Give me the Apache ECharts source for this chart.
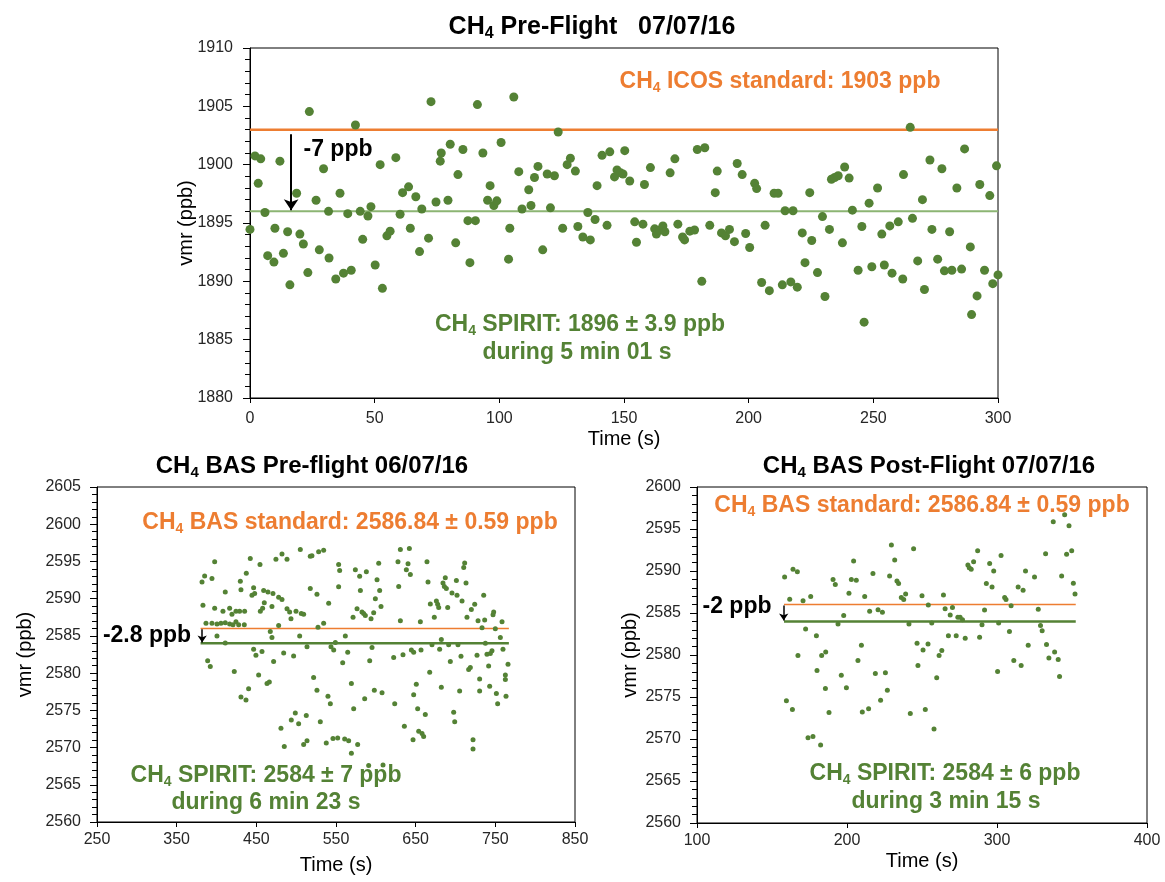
<!DOCTYPE html>
<html><head><meta charset="utf-8">
<script src="https://cdn.jsdelivr.net/npm/echarts@6/dist/echarts.min.js"></script>
<style>html,body{margin:0;padding:0;background:#fff}#c{width:1165px;height:882px}</style>
</head><body><div id="c"></div>
<script>
// ---------- DATA ----------
const topXTicks = [0, 300, 50];          // min, max, interval (s)
const topYTicks = [1880, 1910, 5];       // min, max, interval (ppb)
const blXTicks = [250, 850, 100];
const blYTicks = [2560, 2605, 5];
const brXTicks = [100, 400, 100];
const brYTicks = [2560, 2600, 5];

const topIcosLine = [[0, 1903], [300, 1903]];
const topSpiritLine = [[0, 1896], [300, 1896]];
const topArrow = [[16.5, 1902.6], [16.5, 1896.1]];

const blStdLine = [[380, 2586], [767, 2586]];
const blSpiritLine = [[380, 2584], [767, 2584]];
const blArrow = [[382, 2585.9], [382, 2584.1]];

const brStdLine = [[158, 2586], [352.5, 2586]];
const brSpiritLine = [[158, 2584], [352.5, 2584]];
const brArrow = [[157.8, 2585.9], [157.8, 2584.1]];

const topPoints = [
[0,1894.45],[2,1900.75],[3.3,1898.4],[4.3,1900.5],[6,1895.9],[7.1,1892.2],[9.6,1891.65],[10,1894.55],[12,1900.3],[13.4,1892.4],
[15.1,1894.25],[16,1889.7],[18.7,1897.55],[20,1894.05],[21.4,1893.2],[23.2,1890.75],[23.8,1904.55],[26.5,1896.95],[27.8,1892.7],[29.5,1899.65],
[31.5,1896.0],[31.7,1892.0],[34.4,1890.2],[36.1,1897.55],[37.5,1890.7],[39.2,1895.8],[40.6,1890.95],[42.3,1903.4],[44.2,1896.0],[45.2,1893.6],
[47.3,1895.6],[48.5,1896.4],[50.2,1891.4],[52.2,1900.0],[53.1,1889.4],[54.9,1893.9],[56.2,1894.3],[58.5,1900.6],[60.2,1895.75],[61.2,1897.6],
[63.6,1898.1],[64.3,1894.55],[66.5,1897.25],[68,1892.55],[68.9,1896.2],[71.6,1893.7],[72.6,1905.4],[74.6,1896.8],[76.3,1900.3],[76.7,1901.0],
[79.4,1896.95],[80.3,1901.75],[82.5,1893.3],[83.4,1899.15],[85.4,1901.3],[87.4,1895.2],[88.2,1891.6],[90.4,1895.2],[91.2,1905.15],[93.4,1901.0],
[95.3,1896.95],[96.3,1898.2],[97.8,1896.5],[99,1896.9],[100.7,1901.9],
[103.7,1891.9],[104.2,1894.55],[105.8,1905.8],[107.8,1899.4],[109.1,1896.2],[111.8,1897.85],[112.7,1896.5],[114.1,1898.9],[115.5,1899.85],[117.4,1892.7],
[119.2,1899.2],[120.5,1896.3],[122.1,1899.05],[123.6,1902.8],[125.4,1894.55],[127.2,1900.0],[128.5,1900.55],[130.5,1899.45],[131.5,1894.7],[133.5,1893.8],
[135.5,1895.9],[136.5,1893.55],[138.4,1895.3],[139.2,1898.2],[141.2,1900.8],[143.2,1894.8],[144.3,1901.1],[146.2,1898.95],[147.2,1899.55],[148.6,1899.3],
[149.6,1899.2],[150.3,1901.2],[152.3,1898.6],[154.3,1895.1],[155,1893.35],[157.6,1894.9],[158.2,1898.3],[160.6,1899.75],[162.3,1894.5],[163,1894.05],
[164.3,1894.4],[165.6,1894.75],[166.4,1894.25],[168.5,1899.3],[170.4,1900.5],[171.6,1894.9],[173.5,1893.8],[174.3,1893.55],[176.4,1894.3],[178.3,1894.4],
[179.4,1901.3],[181.2,1890.0],[182.4,1901.45],[184.4,1894.8],[186.6,1897.6],[187.4,1899.45],[189.1,1894.15],[190.7,1893.9],[192.3,1894.45],[194.3,1893.4],
[195.4,1900.1],[197.4,1899.15],
[198.8,1894.1],[200.4,1892.9],[202.4,1898.4],[203.2,1897.95],[205.2,1889.9],[206.6,1894.8],[208.3,1889.2],[210.2,1897.55],[211.8,1897.55],[213.5,1889.7],
[214.6,1896.05],[216.9,1889.95],[217.8,1896.05],[219.5,1889.5],[221.5,1894.15],[222.6,1891.6],[224.5,1897.6],[225.3,1893.5],[227.6,1890.75],[229.6,1895.55],
[230.6,1888.7],[232.4,1894.45],[233.2,1898.75],[234.5,1898.9],[235.9,1899.05],[237.6,1893.3],[238.5,1899.8],[240.3,1898.85],[241.6,1896.1],[243.9,1890.95],
[245.4,1894.7],[246.3,1886.5],[248.3,1896.7],[249.4,1891.25],[251.7,1898.0],[253.4,1894.05],[254.4,1891.4],[256.6,1894.75],[257.5,1890.7],[260,1895.1],
[261.8,1890.2],[262.1,1899.15],[264.8,1903.2],[265.7,1895.4],[267.8,1891.75],[269.7,1897.0],[270.5,1889.3],[272.7,1900.4],[273.5,1894.45],[275.8,1891.9],
[277.5,1899.65],[278.5,1890.9],[280.6,1894.25],[281.5,1890.95],[283.5,1898.0],[285.4,1891.05],[286.6,1901.35],[288.9,1892.95],[289.4,1887.15],[291.6,1888.75],
[292.7,1898.3],[294.6,1890.95],[296.7,1897.35],[297.9,1889.8],[299.4,1899.9],[300,1890.55]
];

const blPoints = [
[381.8,2592.25],[385.1,2593.05],[383,2589.1],[386.8,2586.7],[388.9,2581.65],[392.2,2580.9],[394.3,2592.7],[397.7,2594.95],[397.7,2588.7],[394.3,2586.7],
[400.6,2586.6],[400.6,2585.0],[411,2584.05],[405.6,2586.7],[408.1,2588.3],[411,2590.9],[411,2586.75],[416.5,2588.7],[416.5,2586.6],[419.4,2587.9],
[420.7,2586.5],[422.3,2580.2],[424.4,2586.9],[424.4,2588.3],[427.8,2586.5],[429,2588.3],[429.9,2592.35],[430.7,2591.2],[430.7,2576.8],[434.9,2586.5],
[435.3,2588.3],[437,2576.4],[437.4,2593.4],[440.3,2577.9],[442.4,2595.4],[444.5,2590.45],[446.6,2583.2],[447.9,2590.7],[446.6,2591.45],[449.5,2582.4],
[452.9,2579.75],[454.6,2594.6],[455,2588.3],[457.1,2582.9],[457.9,2588.7],[459.2,2591.1],[460,2589.45],[463.4,2578.6],[466.3,2578.8],[464.6,2590.9],
[467.5,2585.6],[469.6,2584.8],[469.6,2588.95],[470.9,2590.7],[471.7,2581.55],[474.6,2595.3],[478,2590.2],[478,2586.4],[480.9,2572.6],[482.2,2596.0],
[482.2,2589.9],[484.3,2582.7],[485.1,2570.15],[488.5,2595.3],[488.5,2588.65],[491.8,2588.2],[493.5,2587.3],[493.9,2573.7],[496.8,2582.3],[498.9,2574.65],
[499.8,2588.3],[503.1,2573.2],[504.4,2585.0],[505.2,2596.6],[506.4,2588.0],[509.4,2587.9],[509.4,2570.4],[513.6,2583.55],[513.6,2570.9],[512.7,2574.3],
[517.7,2591.35],[517.7,2595.7],[519.8,2595.75],[521.9,2579.4],[526.1,2590.6],[526.1,2577.7],[527.4,2586.15],[528.2,2596.3],[530.3,2573.45],[534.5,2596.5],
[534.5,2586.7],[537.8,2570.6],[539.9,2576.9],[540.8,2589.4],[542.9,2575.9],[543.7,2583.55],[546.2,2571.2],[552.1,2571.3],[553.3,2594.6],[554.6,2593.8],
[553.3,2591.6],[547.1,2583.1],[549.2,2584.1],[561.7,2585.0],[560.9,2571.15],[558.4,2581.4],[564.7,2582.8],[565.9,2570.9],[569.3,2578.6],[571.4,2587.5],
[572.2,2575.2],[569.3,2569.25],[574.3,2593.9],[576.4,2588.65],[577.2,2570.4],[579.7,2593.0],[580.6,2591.1],[582.6,2588.2],[584.7,2588.0],[586.8,2587.75],
[586,2576.55],[588.1,2593.6],[591,2567.6],[592.3,2581.65],[594,2587.3],[595.2,2583.45],[597.3,2588.1],[598.1,2577.7],[599.4,2590.0],[601.5,2592.55],
[603.6,2594.75],[604.8,2591.1],[606.5,2588.95],[607.8,2577.35],[609,2567.65],[622.4,2582.1],[623.7,2575.9],[627.8,2594.95],[628.7,2591.65],[630.8,2596.6],
[630.8,2587.05],[634.1,2582.45],[635.8,2572.85],[638.3,2593.9],[640.4,2594.7],[642.1,2596.75],[643.3,2593.25],[644.6,2583.1],[647.5,2582.8],[646.7,2571.05],
[647.5,2577.1],[650.8,2578.5],[652.5,2575.2],[653.8,2572.2],[655.9,2586.9],[656.7,2583.1],[658,2571.9],[660,2571.5],[662.1,2574.45],[664.2,2594.95],
[665.5,2592.25],[667.6,2580.1],[668.4,2589.3],[670.5,2583.8],[673.4,2587.5],[676,2589.7],[677.6,2589.25],[678.9,2588.8],[680.1,2583.2],[682.2,2584.5],
[682.2,2578.1],[684.3,2592.1],[686,2591.65],[687.2,2592.8],[688.5,2591.35],[690.2,2588.8],[691.4,2583.8],[693.5,2581.55],[695.6,2590.75],[697.7,2574.75],
[699,2573.45],[701.1,2592.45],[701.9,2590.45],[703.1,2583.8],[705.2,2577.6],[706.9,2582.25],[708.2,2589.7],[710.3,2594.2],[711.5,2594.8],[713.2,2592.1],
[714.4,2587.5],[716.5,2580.5],[718.6,2580.75],[719.9,2588.55],[722,2571.05],[722,2569.8],[724.1,2589.25],[727,2582.4],[728.3,2587.05],[730.3,2579.2],
[730.3,2577.6],[733.3,2586.1],[735.4,2590.45],[736.6,2587.15],[737.5,2584.0],[739.5,2582.55],[741.6,2580.95],[742.9,2578.25],[743.7,2582.65],[745.8,2583.0],
[747.1,2587.85],[747.9,2588.2],[750,2585.95],[751.3,2577.25],[752.9,2575.9],[756.3,2584.8],[758.4,2586.9],[759.6,2583.2],[762.6,2579.75],[762.6,2579.15],
[763.4,2576.9],[765.9,2581.2]
];

const brPoints = [
[158.4,2589.3],[159.6,2574.55],[161.8,2586.65],[163.6,2573.5],[164,2590.2],[166.9,2589.9],[167.3,2579.95],[170.7,2586.45],[172.4,2583.1],[174,2570.15],
[175.8,2586.95],[177.3,2570.3],[179.6,2582.3],[180,2578.15],[182.4,2569.3],[183.1,2579.95],[185.8,2580.35],[185.6,2576.0],[188,2573.15],[190.7,2589.0],
[192.2,2588.4],[194,2583.7],[196.2,2577.6],[197.8,2584.7],[199.6,2576.1],[201.3,2587.35],[202.9,2589.0],[204.4,2591.2],[206.2,2588.9],[207.3,2579.35],
[209.6,2581.15],[210.2,2573.2],[211.8,2586.95],[214.4,2573.6],[215.1,2585.2],[217.3,2589.7],[218.9,2577.8],[220.7,2585.4],[222.4,2574.6],[223.6,2585.1],
[225.6,2577.9],[226.9,2575.8],[228.4,2589.4],[229.6,2593.1],[231.8,2591.3],[233.3,2588.8],[234.4,2588.5],[236.2,2586.85],[237.8,2586.6],[239.1,2587.25],
[241.3,2583.7],[242.2,2573.05],[244.4,2592.65],[246.7,2581.4],[247.3,2578.75],[250,2587.05],[250.7,2580.6],[252.2,2573.5],[254,2581.3],
[254.2,2585.95],[256.5,2583.8],[258,2571.2],[259.8,2577.3],[261.4,2579.95],[263.2,2580.55],[264.3,2587.15],[265.4,2585.5],[267.6,2582.3],[268.8,2584.75],
[270.3,2585.65],[272.8,2582.3],[273.9,2584.5],[275.4,2584.5],[277,2584.2],[278.8,2582.0],[280.6,2590.7],[281.5,2590.4],[282.8,2590.2],[284.4,2591.1],
[287.1,2592.4],[288.4,2582.1],[290,2583.6],[291.7,2585.35],[292.9,2588.5],[295.1,2590.9],[296.7,2588.1],[297.8,2590.0],[300.4,2578.05],[301.1,2583.8],
[302.7,2591.85],[305.1,2586.85],[306,2586.6],[308.3,2582.8],[309.4,2585.85],[311.2,2579.35],[314.1,2588.1],[316.1,2578.75],[317.4,2587.7],[319,2590.0],
[320.8,2581.15],[325,2589.3],[327.5,2585.45],[329,2583.5],[330.1,2582.9],[332.4,2592.05],[333,2581.25],[334.6,2579.65],[337.5,2595.85],[338.4,2580.35],
[340.8,2579.45],[341.7,2577.45],[343.1,2589.4],[345.1,2596.7],[346.4,2592.0],[348,2595.4],[349.8,2592.4],[350.9,2588.55],[352,2587.25]
];

// ---------- STYLE ----------
const FONT = '"Liberation Sans", Arial, Helvetica, sans-serif';
const GREEN = '#548235', ORANGE = '#ED7D31', TXT = '#262626';

function xAxis(gi, t, nameGap, margin) {
  return {type:'value', gridIndex:gi, min:t[0], max:t[1], interval:t[2],
    name:'Time (s)', nameLocation:'middle', nameGap,
    nameTextStyle:{fontSize:20, color:'#000', fontFamily:FONT},
    axisLine:{show:true, onZero:false, lineStyle:{color:'#000', width:1}},
    axisTick:{show:true, inside:false, length:5, lineStyle:{color:'#000'}},
    splitLine:{show:false},
    axisLabel:{fontSize:16, color:TXT, fontFamily:FONT, margin, formatter:v => String(v)}};
}
function yAxis(gi, t, nameGap, margin) {
  return {type:'value', gridIndex:gi, min:t[0], max:t[1], interval:t[2],
    name:'vmr (ppb)', nameLocation:'middle', nameGap, nameMoveOverlap:false,
    nameTextStyle:{fontSize:20, color:'#000', fontFamily:FONT},
    axisLine:{show:true, onZero:false, lineStyle:{color:'#000', width:1}},
    axisTick:{show:true, inside:false, length:7, lineStyle:{color:'#000'}},
    minorTick:{show:true, splitNumber:5, length:5, lineStyle:{color:'#000'}},
    splitLine:{show:false}, minorSplitLine:{show:false},
    axisLabel:{fontSize:16, color:TXT, fontFamily:FONT, margin, formatter:v => String(v)}};
}
function refLine(ai, data, color, width) {
  return {type:'line', xAxisIndex:ai, yAxisIndex:ai, data, symbol:'none', silent:true,
    lineStyle:{color, width}, z:2, animation:false};
}
function arrow(ai, pts, width, size) {
  return {type:'line', xAxisIndex:ai, yAxisIndex:ai, data:[], silent:true, animation:false,
    markLine:{silent:true, animation:false, symbol:['none','arrow'], symbolSize:size,
      label:{show:false}, lineStyle:{color:'#000', width, type:'solid'},
      emphasis:{disabled:true},
      data:[[{coord:pts[0]},{coord:pts[1]}]]}};
}
function rich(size, color, bold) {
  const w = bold ? 'bold' : 'normal';
  return {
    a:{fontSize:size, fontWeight:w, fill:color, fontFamily:FONT, lineHeight:size+4},
    s:{fontSize:Math.round(size*0.62), fontWeight:w, fill:color, fontFamily:FONT, lineHeight:Math.round(size*0.62), verticalAlign:'bottom'}
  };
}
function txt(x, y, pre, sub, post, size, color) {
  const text = sub ? `{a|${pre}}{s|${sub}}{a|${post}}` : `{a|${pre}}`;
  return {type:'text', x, y, silent:true, z:10,
    style:{text, rich:rich(size, color, true), align:'center', verticalAlign:'middle'}};
}

const chart = echarts.init(document.getElementById('c'), null, {renderer:'canvas'});
chart.setOption({
  animation:false,
  backgroundColor:'#fff',
  grid:[
    {left:250, top:48, width:748, height:350, show:true, borderColor:'#000', borderWidth:1, backgroundColor:'transparent'},
    {left:97, top:487, width:478, height:335, show:true, borderColor:'#000', borderWidth:1, backgroundColor:'transparent'},
    {left:697, top:487, width:450, height:336, show:true, borderColor:'#000', borderWidth:1, backgroundColor:'transparent'}
  ],
  xAxis:[xAxis(0, topXTicks, 31, 13), xAxis(1, blXTicks, 33, 10), xAxis(2, brXTicks, 28, 10)],
  yAxis:[yAxis(0, topYTicks, 54, 17), yAxis(1, blYTicks, 62, 16), yAxis(2, brYTicks, 57, 16)],
  series:[
    refLine(0, topIcosLine, ORANGE, 2.5),
    refLine(0, topSpiritLine, '#8CB573', 2),
    {type:'scatter', xAxisIndex:0, yAxisIndex:0, data:topPoints, symbolSize:9, itemStyle:{color:GREEN, opacity:1}, z:3, silent:true},
    arrow(0, topArrow, 2, 11),

    refLine(1, blStdLine, ORANGE, 1.5),
    refLine(1, blSpiritLine, GREEN, 2.5),
    {type:'scatter', xAxisIndex:1, yAxisIndex:1, data:blPoints, symbolSize:5, itemStyle:{color:GREEN, opacity:1}, z:3, silent:true},
    arrow(1, blArrow, 1.5, 7),

    refLine(2, brStdLine, ORANGE, 1.5),
    refLine(2, brSpiritLine, GREEN, 2.5),
    {type:'scatter', xAxisIndex:2, yAxisIndex:2, data:brPoints, symbolSize:5, itemStyle:{color:GREEN, opacity:1}, z:3, silent:true},
    arrow(2, brArrow, 1.5, 7)
  ],
  graphic:[
    txt(592, 27, 'CH', '4', ' Pre-Flight   07/07/16', 25, '#000'),
    txt(312, 466, 'CH', '4', ' BAS Pre-flight 06/07/16', 24, '#000'),
    txt(929, 466, 'CH', '4', ' BAS Post-Flight 07/07/16', 24, '#000'),

    txt(780, 82, 'CH', '4', ' ICOS standard: 1903 ppb', 23, ORANGE),
    txt(338, 150, '-7 ppb', null, null, 23, '#000'),
    txt(580, 325, 'CH', '4', ' SPIRIT: 1896 \u00b1 3.9 ppb', 23, GREEN),
    txt(577, 353, 'during 5 min 01 s', null, null, 23, GREEN),

    txt(350, 523, 'CH', '4', ' BAS standard: 2586.84 \u00b1 0.59 ppb', 23, ORANGE),
    txt(147, 636, '-2.8 ppb', null, null, 23, '#000'),
    txt(266, 776, 'CH', '4', ' SPIRIT: 2584 \u00b1 7 ppb', 23, GREEN),
    txt(266, 803, 'during 6 min 23 s', null, null, 23, GREEN),

    txt(922, 506, 'CH', '4', ' BAS standard: 2586.84 \u00b1 0.59 ppb', 23, ORANGE),
    txt(737, 607, '-2 ppb', null, null, 23, '#000'),
    txt(945, 774, 'CH', '4', ' SPIRIT: 2584 \u00b1 6 ppb', 23, GREEN),
    txt(946, 802, 'during 3 min 15 s', null, null, 23, GREEN)
  ]
});
</script>
</body></html>
